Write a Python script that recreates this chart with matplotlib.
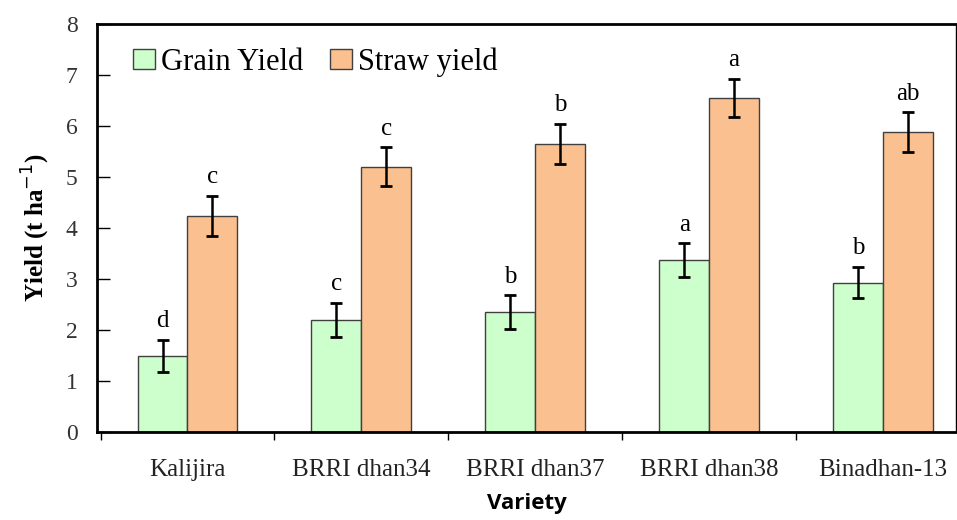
import numpy as np
import matplotlib.pyplot as plt
from matplotlib.patches import Patch

# data
varieties = ["Kalijira", "BRRI dhan34", "BRRI dhan37", "BRRI dhan38", "Binadhan-13"]
grain_yield = [1.49, 2.20, 2.35, 3.37, 2.93]
grain_err = [0.32, 0.33, 0.33, 0.33, 0.31]
grain_letters = ["d", "c", "b", "a", "b"]
straw_yield = [4.24, 5.20, 5.65, 6.55, 5.88]
straw_err = [0.39, 0.38, 0.39, 0.37, 0.39]
straw_letters = ["c", "c", "b", "a", "ab"]

green = "#CCFFCC"
orange = "#FAC090"
serif = ["Liberation Serif", "DejaVu Serif"]

fig = plt.figure(figsize=(9.57, 5.2), dpi=100)
ax = fig.add_axes([0.1014, 0.169, 0.8976, 0.785])

x = np.arange(len(varieties))
w = 0.287

ax.bar(x - w / 2, grain_yield, w, color=green, edgecolor="#404040", linewidth=1, zorder=2)
ax.bar(x + w / 2, straw_yield, w, color=orange, edgecolor="#404040", linewidth=1, zorder=2)
ax.errorbar(x - w / 2, grain_yield, yerr=grain_err, fmt="none", ecolor="black",
            elinewidth=1.8, capsize=4.3, capthick=2, zorder=3)
ax.errorbar(x + w / 2, straw_yield, yerr=straw_err, fmt="none", ecolor="black",
            elinewidth=1.8, capsize=4.3, capthick=2, zorder=3)

# significance letters
for i in range(len(varieties)):
    ax.text(x[i] - w / 2, grain_yield[i] + grain_err[i] + 0.15, grain_letters[i],
            ha="center", va="bottom", fontsize=18, family=serif)
    ax.text(x[i] + w / 2, straw_yield[i] + straw_err[i] + 0.15, straw_letters[i],
            ha="center", va="bottom", fontsize=18, family=serif)

ax.set_xlim(-0.52, 4.42)
ax.set_ylim(0, 8)

# y axis
ax.set_yticks(range(0, 9))
ax.tick_params(axis="y", direction="in", length=9, width=1, pad=14)
ax.set_yticklabels([str(v) for v in range(0, 9)], fontsize=17, family=serif, color="#333333")

# x axis: ticks on group boundaries, labels at the centres
ax.set_xticks(x - 0.5)
ax.set_xticklabels([])
ax.tick_params(axis="x", which="major", direction="out", length=6, width=1)
ax.set_xticks(x, minor=True)
ax.set_xticklabels(varieties, minor=True, fontsize=18, family=serif, color="#222222")
ax.tick_params(axis="x", which="minor", length=0, pad=19)

for side in ["left", "top", "bottom"]:
    ax.spines[side].set_linewidth(2)
ax.spines["right"].set_linewidth(1)

ax.set_ylabel("Yield (t ha$^{-1}$)", fontsize=18, fontweight="bold", family=serif, labelpad=10)
ax.set_xlabel("Variety", fontsize=16, fontweight="bold", family="Open Sans", labelpad=9)

handles = [Patch(facecolor=green, edgecolor="#404040", label="Grain Yield"),
           Patch(facecolor=orange, edgecolor="#404040", label="Straw yield")]
ax.legend(handles=handles, loc="upper left", bbox_to_anchor=(0.01, 1.01), ncol=2,
          frameon=False, prop={"family": serif, "size": 22}, handlelength=0.7,
          handleheight=0.6, handletextpad=0.2, columnspacing=0.9)

fig.savefig("out.png", dpi=100)
